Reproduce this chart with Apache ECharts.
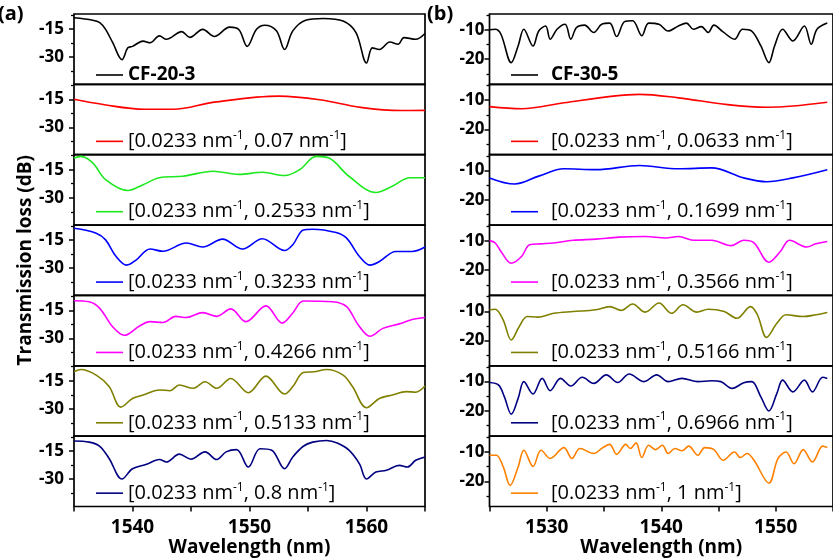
<!DOCTYPE html>
<html>
<head>
<meta charset="utf-8">
<script src="https://cdn.jsdelivr.net/npm/echarts@6/dist/echarts.min.js"></script>
<style>html,body{margin:0;padding:0;background:#fff}#c{width:833px;height:559px}</style>
</head>
<body>
<div id="c"></div>
<script>
// ---------- data ----------
const leftRange = [1535, 1565];
const rightRange = [1525, 1555];
const leftYRange = [-44.6, -7];
const rightYRange = [-28.6, -4.6];
const leftYMajor = [-30, -15];
const leftYMinor = [-37.5, -22.5, -7.5];
const rightYMajor = [-20, -10];
const rightYMinor = [-25, -15, -5];
const leftXTicks = [1535, 1540, 1545, 1550, 1555, 1560, 1565];
const leftXLabels = [1540, 1550, 1560];
const rightXTicks = [1525, 1530, 1535, 1540, 1545, 1550, 1555];
const rightXLabels = [1530, 1540, 1550];

const leftNames = ['CF-20-3', '[0.0233 nm-1, 0.07 nm-1]', '[0.0233 nm-1, 0.2533 nm-1]', '[0.0233 nm-1, 0.3233 nm-1]', '[0.0233 nm-1, 0.4266 nm-1]', '[0.0233 nm-1, 0.5133 nm-1]', '[0.0233 nm-1, 0.8 nm-1]'];
const rightNames = ['CF-30-5', '[0.0233 nm-1, 0.0633 nm-1]', '[0.0233 nm-1, 0.1699 nm-1]', '[0.0233 nm-1, 0.3566 nm-1]', '[0.0233 nm-1, 0.5166 nm-1]', '[0.0233 nm-1, 0.6966 nm-1]', '[0.0233 nm-1, 1 nm-1]'];
const leftColors = ['#000000', '#ff0000', '#1ee81e', '#0000ff', '#ff00ff', '#808000', '#000080'];
const rightColors = ['#000000', '#ff0000', '#0000ff', '#ff00ff', '#808000', '#000080', '#ff8000'];

const cf20_3 = [[1535,-9],[1536.6,-10.3],[1537.2,-11.6],[1537.7,-15.2],[1538.3,-22.2],[1539.1,-31.4],[1539.6,-25.1],[1540.0,-24.3],[1540.9,-21.5],[1541.5,-22.4],[1542.3,-18.7],[1542.9,-20.5],[1544.2,-16.4],[1544.9,-19.5],[1546.0,-15.2],[1547.0,-19],[1548.3,-14],[1549.1,-15.4],[1549.8,-24.3],[1550.6,-15.2],[1551.3,-13],[1552.3,-16],[1553.0,-26],[1553.7,-16],[1554.8,-10.3],[1556.3,-9.4],[1558.0,-10.8],[1559.1,-16.9],[1560.0,-33.2],[1560.5,-25.1],[1561.1,-26],[1562.0,-22],[1562.7,-23.2],[1563.2,-19.6],[1564.2,-20.5],[1565,-17.4]];
const l007 = [[1535,-15],[1537.5,-17.8],[1541,-20.3],[1543.5,-20.3],[1547,-16.5],[1552.5,-13.3],[1556,-15.2],[1559.5,-19.3],[1563,-21],[1565,-20.9]];
const l02533 = [[1535,-8.8],[1535.6,-7.9],[1536.6,-11.4],[1537.7,-20.3],[1539.6,-26.1],[1540.9,-23],[1542.3,-19.3],[1544.3,-18.5],[1546.9,-15.8],[1549.1,-17.5],[1551.1,-16.4],[1553.0,-18.1],[1554.3,-14.9],[1555.7,-7.9],[1556.8,-8.8],[1558.5,-18.5],[1560.8,-27.2],[1562.2,-23.9],[1563.7,-19.3],[1565,-19.3]];
const l03233 = [[1535,-8.7],[1536.9,-11.3],[1537.7,-14.9],[1538.6,-23.8],[1539.5,-28.4],[1540.3,-25.7],[1541.5,-19.8],[1542.6,-21],[1544.6,-16.6],[1546.0,-18.7],[1547.7,-14.5],[1549.4,-19.8],[1551.1,-14.3],[1553.0,-20.6],[1553.7,-17.5],[1554.6,-9.6],[1555.4,-9.2],[1557.4,-11],[1558.3,-14],[1559.4,-23.8],[1560.3,-28.4],[1561.1,-26.5],[1562.5,-21.1],[1563.9,-21.1],[1565,-18.7]];
const l04266 = [[1535,-9.8],[1536.3,-10.4],[1537.2,-13.9],[1538.3,-23.7],[1539.3,-28.3],[1540.6,-23.3],[1541.5,-21],[1542.6,-21.5],[1543.7,-18.2],[1544.6,-18.8],[1546.0,-16.2],[1547.2,-18.2],[1548.4,-14.2],[1549.7,-21],[1551.4,-12.6],[1552.8,-21.8],[1553.7,-16.4],[1554.6,-10],[1557.1,-10.4],[1558.3,-13],[1559.3,-22.8],[1560.3,-28.8],[1561.4,-24.6],[1562.8,-22.2],[1563.9,-19.9],[1565,-18.8]];
const l05133 = [[1535,-10.2],[1535.6,-9],[1536.9,-12],[1538.0,-18.1],[1539.0,-29.1],[1540.0,-24.5],[1540.9,-22.6],[1542.3,-19.9],[1543.2,-20.3],[1544.0,-17.3],[1545.2,-19],[1546.2,-15.5],[1547.2,-19],[1548.4,-13.8],[1549.9,-21.4],[1551.4,-12.5],[1553.0,-22.1],[1553.7,-18.1],[1554.6,-10.6],[1555.5,-10.2],[1556.6,-9],[1558.0,-12],[1558.8,-18.1],[1560.0,-29.4],[1561.1,-24.5],[1562.2,-22.6],[1563.4,-20.8],[1564.2,-21.1],[1565,-17.8]];
const l08 = [[1535,-9.6],[1536.3,-10.2],[1537.2,-12.4],[1538.0,-18.9],[1539.1,-29.9],[1540.0,-24.4],[1541.2,-22],[1542.3,-19.5],[1542.9,-20.8],[1544.0,-16.6],[1545.0,-19.3],[1546.2,-15.4],[1547.2,-19.5],[1548.0,-15.4],[1548.9,-14.2],[1549.9,-23.5],[1550.9,-13.7],[1551.9,-14.5],[1553.0,-24.4],[1553.7,-18.1],[1554.6,-12.4],[1555.4,-10.2],[1556.6,-9.3],[1557.5,-10.7],[1558.5,-14.5],[1559.4,-21.8],[1560.0,-29.9],[1560.8,-26.2],[1561.7,-25.2],[1562.8,-22.6],[1563.5,-23.5],[1564.2,-19.9],[1565,-18.1]];

const cf30_5 = [[1525,-10],[1525.5,-9.8],[1526.0,-11.5],[1526.9,-21.2],[1527.5,-15.5],[1528.0,-9.8],[1528.8,-15.5],[1529.3,-10.4],[1529.9,-8.7],[1530.3,-13.2],[1530.9,-9.8],[1531.6,-8.1],[1532.1,-13.2],[1532.6,-9.2],[1533.3,-8.4],[1534.1,-10.9],[1534.8,-8.1],[1535.5,-7.7],[1536.1,-12.3],[1536.8,-7.2],[1537.5,-6.9],[1538.3,-12],[1538.9,-7.7],[1539.8,-8.1],[1540.6,-10.4],[1541.5,-8.7],[1542.2,-7.7],[1542.8,-9.8],[1543.5,-8.9],[1544.1,-10.9],[1544.6,-8.4],[1545.4,-10.7],[1546.4,-13.2],[1547.1,-9.8],[1547.9,-10.4],[1548.7,-15.5],[1549.4,-21.2],[1549.9,-15.5],[1550.6,-9.8],[1551.5,-13.8],[1552.5,-8.7],[1553.1,-14.9],[1553.6,-9.8],[1554.5,-7.7]];
const r00633 = [[1525,-12.2],[1527.8,-12.9],[1531.5,-10.9],[1535.8,-8.6],[1538.1,-8],[1541.5,-9.2],[1545.8,-11.5],[1549.2,-12.4],[1551.5,-12],[1554.5,-10.7]];
const r01699 = [[1525,-12.5],[1527.2,-14.6],[1529.3,-11.9],[1531.5,-9.4],[1534.3,-9.7],[1538.1,-8.3],[1541.5,-9.4],[1544.4,-9.1],[1547.2,-12.5],[1549.2,-13.8],[1551.5,-12.5],[1554.5,-9.7]];
const r03566 = [[1525,-9.9],[1525.5,-10.7],[1526.0,-13.6],[1526.9,-17.6],[1527.8,-15.3],[1528.5,-11.3],[1529.5,-11],[1530.6,-10.7],[1532.3,-9.8],[1534.3,-9.4],[1536.3,-8.7],[1538.6,-8.5],[1540.4,-9],[1541.5,-8.5],[1542.9,-9.8],[1544.4,-9.8],[1546.1,-11.6],[1547.2,-9.8],[1548.1,-10.7],[1549.4,-17.3],[1550.4,-13.6],[1551.2,-9.8],[1552.7,-12.1],[1553.5,-11],[1554.5,-10.2]];
const r05166 = [[1525,-9.5],[1525.5,-9.3],[1526.2,-13],[1526.9,-19.8],[1527.6,-15.2],[1528.3,-11.8],[1529.2,-12],[1530.6,-10.7],[1532.3,-10.1],[1534.3,-9.5],[1535.5,-8.4],[1536.5,-9.7],[1537.5,-7.5],[1538.6,-10.3],[1539.8,-7.2],[1540.9,-10.7],[1541.9,-7.8],[1543.1,-10.3],[1544.1,-9.3],[1545.5,-10.1],[1546.6,-12.4],[1547.8,-8.4],[1548.4,-11.2],[1549.2,-18.9],[1550.1,-14.1],[1550.9,-11.2],[1552.4,-11.8],[1553.5,-11.2],[1554.5,-10.4]];
const r06966 = [[1525,-10.3],[1525.8,-11.2],[1526.3,-15.2],[1526.9,-21.1],[1527.5,-15.7],[1528.0,-10],[1528.8,-14.2],[1529.6,-8.9],[1530.3,-13.1],[1531.2,-8.9],[1532.1,-11.5],[1533.1,-8.5],[1534.1,-10.6],[1535.2,-7.7],[1536.2,-10.3],[1537.2,-7.4],[1538.5,-10],[1539.6,-7.7],[1540.6,-10],[1541.8,-8.9],[1543.2,-10],[1544.4,-9.7],[1545.2,-10],[1546.2,-12.3],[1547.2,-10.4],[1547.9,-10],[1548.7,-15.2],[1549.4,-20],[1550.1,-14],[1550.6,-9.5],[1551.5,-13.5],[1552.5,-9.5],[1553.2,-13.5],[1554.1,-8.5],[1554.5,-8.9]];
const r1 = [[1525,-11.1],[1525.6,-11.1],[1526.2,-15.1],[1526.8,-21.4],[1527.5,-15.1],[1528.0,-9.4],[1528.8,-14.9],[1529.5,-9.4],[1530.3,-12.2],[1531.5,-8.5],[1532.2,-12.2],[1532.9,-8.8],[1534.1,-10.5],[1534.9,-8.5],[1535.5,-7.4],[1536.1,-10.8],[1536.9,-7.4],[1537.3,-8.8],[1537.8,-6.9],[1538.3,-11.9],[1538.9,-7.7],[1539.5,-9.2],[1540.1,-7.7],[1540.6,-10.5],[1541.2,-8.8],[1541.8,-9.6],[1542.4,-8],[1543.2,-11.1],[1543.8,-8.5],[1544.6,-9.2],[1545.4,-12.8],[1546.4,-10],[1546.9,-11.9],[1547.5,-10.5],[1548.1,-12.8],[1549.4,-20.6],[1550.2,-12.2],[1550.9,-10],[1551.6,-14],[1552.4,-9.2],[1553.2,-13.4],[1554.1,-8],[1554.5,-8.5]];

const leftSeries = [cf20_3, l007, l02533, l03233, l04266, l05133, l08];
const rightSeries = [cf30_5, r00633, r01699, r03566, r05166, r06966, r1];

// ---------- layout ----------
const FONT = 'Open Sans';
const TOP = 14, H = 70.36;
const cols = [
  {left: 74, width: 351, xr: leftRange, yr: leftYRange, maj: leftYMajor, min: leftYMinor, xt: leftXTicks, xl: leftXLabels, names: leftNames, colors: leftColors, data: leftSeries, legLeft: 96, labMargin: 10, textPad: 0},
  {left: 489.5, width: 349.5, xr: rightRange, yr: rightYRange, maj: rightYMajor, min: rightYMinor, xt: rightXTicks, xl: rightXLabels, names: rightNames, colors: rightColors, data: rightSeries, legLeft: 511, labMargin: 5, textPad: 8}
];

const grid = [], xAxis = [], yAxis = [], series = [], legend = [];
function fmt(name) {
  if (name.indexOf('nm-1') < 0) return '{b|' + name + '}';
  return name.replace(/nm-1/g, 'nm{sup|-1}');
}
cols.forEach((c, ci) => {
  for (let i = 0; i < 7; i++) {
    const g = ci * 7 + i;
    const top = TOP + i * H;
    grid.push({left: c.left, top: top, width: c.width, height: H, show: true, borderColor: '#000', borderWidth: 1.7, backgroundColor: 'transparent'});
    const bottom = i === 6;
    xAxis.push({
      type: 'value', gridIndex: g, min: c.xr[0], max: c.xr[1],
      axisLine: {show: false}, splitLine: {show: false},
      axisTick: {show: bottom, customValues: c.xt, length: 5, lineStyle: {color: '#000', width: 1.5}},
      axisLabel: {show: bottom, customValues: c.xl, formatter: v => String(v), color: '#000', fontFamily: FONT, fontWeight: 'bold', fontSize: 19, margin: 12},
      name: bottom ? 'Wavelength (nm)' : '', nameLocation: 'middle', nameGap: 25,
      nameTextStyle: {color: '#000', fontFamily: FONT, fontWeight: 'bold', fontSize: 19}
    });
    yAxis.push({
      type: 'value', gridIndex: g, position: 'left', min: c.yr[0], max: c.yr[1],
      axisLine: {show: false}, splitLine: {show: false},
      axisTick: {show: true, customValues: c.maj, length: 5, lineStyle: {color: '#000', width: 1.5}},
      axisLabel: {show: true, customValues: c.maj, color: '#000', fontFamily: FONT, fontWeight: 'bold', fontSize: 17, margin: c.labMargin},
      name: (ci === 0 && i === 3) ? 'Transmission loss (dB)' : '', nameLocation: 'middle', nameGap: 36,
      nameTextStyle: {color: '#000', fontFamily: FONT, fontWeight: 'bold', fontSize: 19}
    });
    yAxis.push({
      type: 'value', gridIndex: g, position: 'left', offset: 0, min: c.yr[0], max: c.yr[1],
      axisLine: {show: false}, splitLine: {show: false},
      axisTick: {show: true, customValues: c.min, length: 3, lineStyle: {color: '#000', width: 1.3}},
      axisLabel: {show: false}
    });
    series.push({
      type: 'line', name: c.names[i], xAxisIndex: g, yAxisIndex: 2 * g,
      data: c.data[i], symbol: 'none', smooth: 0.35, animation: false,
      lineStyle: {color: c.colors[i], width: 1.6}, itemStyle: {color: c.colors[i]}
    });
    legend.push({
      data: [c.names[i]], left: c.legLeft, top: top + (i === 0 ? 49 : 45),
      icon: 'rect', itemWidth: 27, itemHeight: 1.6, selectedMode: false, padding: 0,
      formatter: fmt,
      textStyle: {color: '#000', fontFamily: FONT, fontSize: 20, lineHeight: 24, padding: [0, 0, 0, c.textPad],
        rich: {
          sup: {fontFamily: FONT, fontSize: 12, verticalAlign: 'top', lineHeight: 14, color: '#000'},
          b: {fontFamily: FONT, fontSize: 19, fontWeight: 'bold', color: '#000'}
        }}
    });
  }
});

const chart = echarts.init(document.getElementById('c'), null, {renderer: 'canvas'});
chart.setOption({
  animation: false,
  backgroundColor: '#fff',
  title: [
    {text: '(a)', left: -2, top: 4, padding: 0, textStyle: {fontFamily: FONT, fontWeight: 'bold', fontSize: 20, color: '#000'}},
    {text: '(b)', left: 427, top: 4, padding: 0, textStyle: {fontFamily: FONT, fontWeight: 'bold', fontSize: 20, color: '#000'}}
  ],
  grid, xAxis, yAxis, series, legend
});
</script>
</body>
</html>
